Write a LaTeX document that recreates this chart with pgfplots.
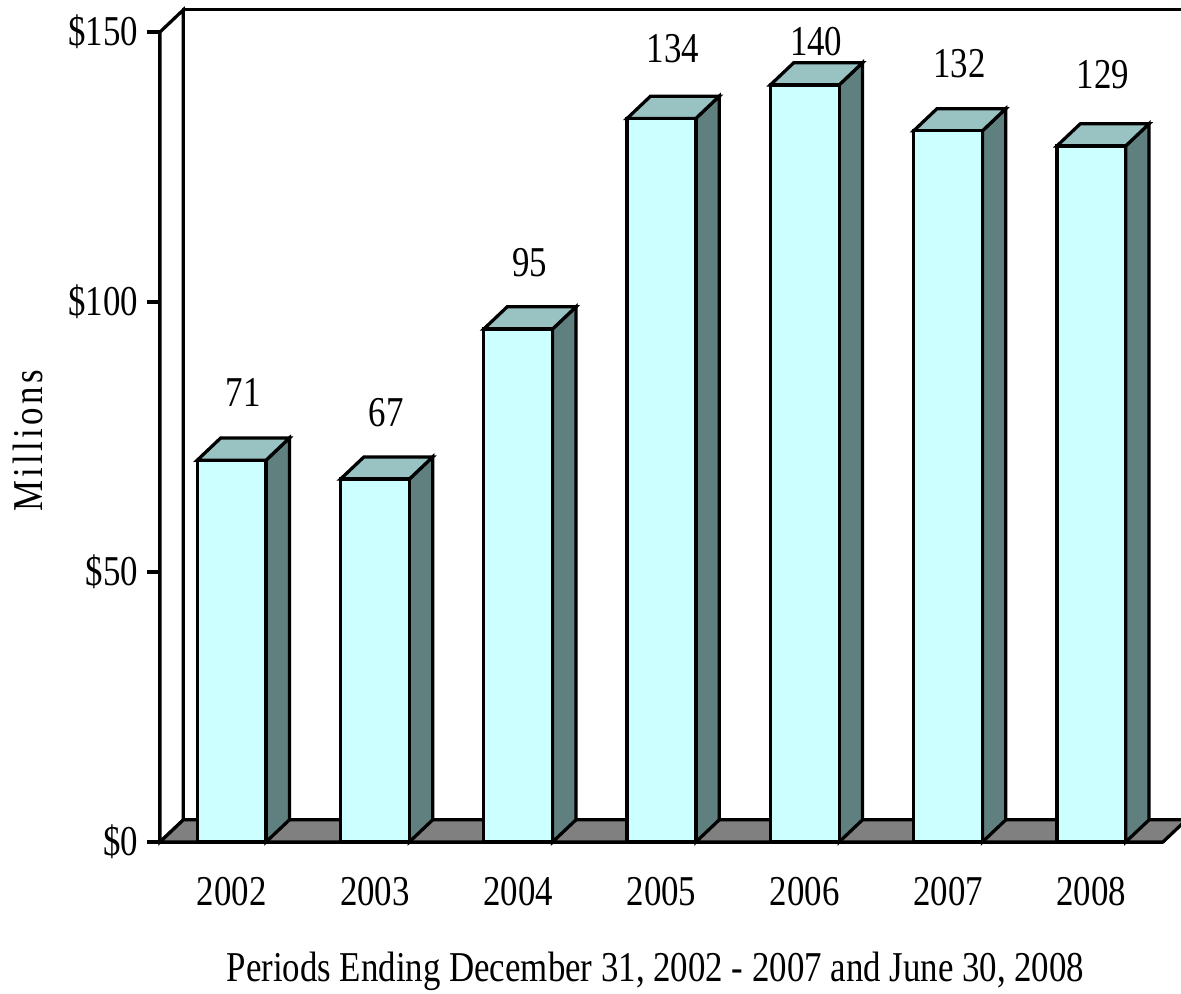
\documentclass[border=0pt]{standalone}
\usepackage{pgfplots}
\pgfplotsset{compat=1.18}
\usepackage{fontspec}
\setmainfont{Liberation Serif}[FakeStretch=0.82]

\definecolor{barfront}{HTML}{CCFFFF}
\definecolor{bartop}{HTML}{99C2C2}
\definecolor{barside}{HTML}{608080}
\definecolor{floorgray}{HTML}{808080}

% depth of the fake 3d effect, in axis units
\newcommand{\dx}{0.163}
\newcommand{\dy}{4.1}
\newcommand{\hw}{0.24}

% one box: category position, value
\newcommand{\threedbar}[2]{%
  \pgfmathsetmacro{\xl}{#1-\hw}%
  \pgfmathsetmacro{\xr}{#1+\hw}%
  \pgfmathsetmacro{\xlb}{#1-\hw+\dx}%
  \pgfmathsetmacro{\xrb}{#1+\hw+\dx}%
  \pgfmathsetmacro{\ytb}{#2+\dy}%
  \edef\temp{%
    \noexpand\addplot[fill=barside] coordinates {(\xr,0) (\xrb,\dy) (\xrb,\ytb) (\xr,#2)} -- cycle;
    \noexpand\addplot[fill=bartop] coordinates {(\xl,#2) (\xr,#2) (\xrb,\ytb) (\xlb,\ytb)} -- cycle;
    \noexpand\addplot[fill=barfront] coordinates {(\xl,0) (\xr,0) (\xr,#2) (\xl,#2)} -- cycle;
  }\temp
}

\begin{document}
\begin{tikzpicture}[font=\fontsize{17}{20}\selectfont]
\begin{axis}[
  at={(0,0)}, anchor=south west,
  scale only axis,
  width=401.2pt, height=324pt,
  xmin=-0.5, xmax=6.5,
  ymin=0, ymax=150,
  clip=false,
  axis lines=left,
  axis line style={-, line width=1.3pt},
  every axis plot/.append style={draw=black, line width=1.3pt},
  tick style={black, line width=1.3pt},
  tick align=outside,
  major tick length=5.2pt,
  minor tick length=6.8pt,
  xtick={0,...,6},
  xticklabels={2002,2003,2004,2005,2006,2007,2008},
  xtick style={draw=none},
  minor xtick={-0.5,0.5,...,6.5},
  xticklabel style={yshift=-5.2pt},
  ytick={0,50,100,150},
  yticklabels={\$0,\$50,\$100,\$150},
  xlabel={Periods Ending December 31, 2002 - 2007 and June 30, 2008},
  xlabel style={at={(axis description cs:0.494,0)}, anchor=base, yshift=-56pt},
  ylabel={\addfontfeatures{LetterSpace=8}Millions},
  ylabel style={at={(axis description cs:-0.1316,0.495)}, anchor=center},
]
% walls and floor
\addplot[fill=white] coordinates {(-0.337,4.1) (6.663,4.1) (6.663,154.1) (-0.337,154.1)} -- cycle;
\addplot[fill=white] coordinates {(-0.5,0) (-0.5,150) (-0.337,154.1) (-0.337,4.1)} -- cycle;
\addplot[fill=floorgray] coordinates {(-0.5,0) (6.5,0) (6.663,4.1) (-0.337,4.1)} -- cycle;

\threedbar{0}{70.7}
\threedbar{1}{67.2}
\threedbar{2}{95}
\threedbar{3}{134}
\threedbar{4}{140.2}
\threedbar{5}{131.7}
\threedbar{6}{128.9}

% value labels
\addplot[draw=none, nodes near coords, point meta=explicit symbolic,
  every node near coord/.append style={anchor=base, inner sep=0pt}]
  coordinates {(0.08,80.6)[71] (1.08,76.9)[67] (2.08,104.8)[95] (3.08,144.3)[134]
               (4.08,145.7)[140] (5.08,141.5)[132] (6.08,139.6)[129]};
\end{axis}
\pgfresetboundingbox
\path[use as bounding box] (-64pt,-60.8pt) rectangle (408.4pt,336.8pt);
\end{tikzpicture}
\end{document}
